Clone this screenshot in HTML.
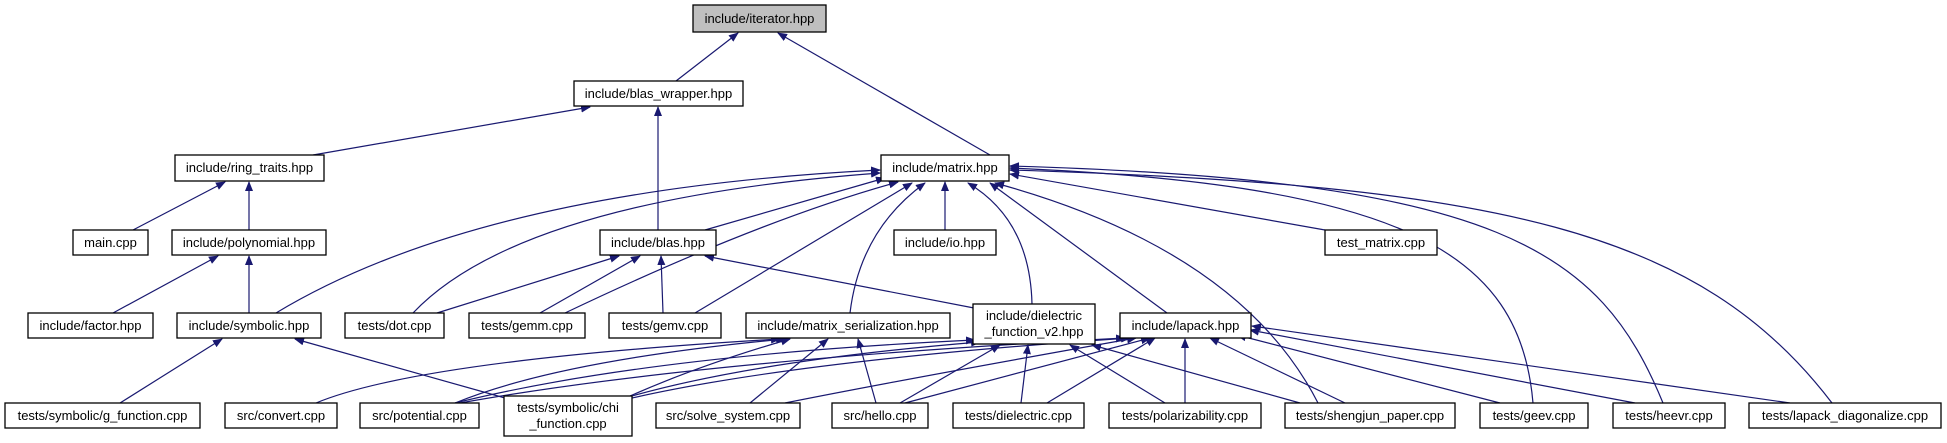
<!DOCTYPE html>
<html><head><meta charset="utf-8"><style>
html,body{margin:0;padding:0;background:#fff;}
svg{display:block;}
text{font-family:"Liberation Sans",Arial,sans-serif;font-size:13px;fill:#000;}
.b{fill:#fff;stroke:#000;stroke-width:1.3;}
.e{fill:none;stroke:#191970;stroke-width:1.2;}
</style></head><body>
<svg width="1947" height="443" viewBox="0 0 1947 443" xmlns="http://www.w3.org/2000/svg">
<defs><marker id="a" markerWidth="10" markerHeight="8" refX="9" refY="4" orient="auto" markerUnits="userSpaceOnUse"><path d="M0,0 L10,4 L0,8 z" fill="#191970"/></marker></defs>
<g class="e" marker-end="url(#a)">
<path d="M676,81 L738,33"/>
<path d="M990,155 L778,33"/>
<path d="M313,155 L590,107"/>
<path d="M658,230 L658,107"/>
<path d="M133,230 L225,182"/>
<path d="M249,230 L249,182"/>
<path d="M113,313 L218,256"/>
<path d="M249,313 L249,256"/>
<path d="M120,403 L222,339"/>
<path d="M505,398 L295,339"/>
<path d="M276,313 Q480,190 880,170"/>
<path d="M413,313 Q520,200 880,173"/>
<path d="M705,230 L885,178"/>
<path d="M565,313 Q760,220 898,182"/>
<path d="M695,313 L912,183"/>
<path d="M850,313 Q860,230 925,183"/>
<path d="M945,230 L945,182"/>
<path d="M1032,304 Q1030,220 968,183"/>
<path d="M1167,313 L990,183"/>
<path d="M1318,403 Q1240,250 995,183"/>
<path d="M1325,230 L1010,174"/>
<path d="M1533,403 C1520,250 1400,185 1010,168"/>
<path d="M1663,403 C1600,250 1500,180 1010,166"/>
<path d="M1832,403 C1700,230 1500,185 1010,170"/>
<path d="M437,313 L619,256"/>
<path d="M540,313 L640,256"/>
<path d="M663,313 L661,256"/>
<path d="M974,308 L705,256"/>
<path d="M316,403 Q420,360 780,339"/>
<path d="M455,403 Q560,360 785,339"/>
<path d="M630,396 Q700,365 790,339"/>
<path d="M750,403 L828,339"/>
<path d="M876,403 L858,339"/>
<path d="M455,403 Q650,355 975,340"/>
<path d="M632,396 Q760,360 980,342"/>
<path d="M900,403 L1000,345"/>
<path d="M1021,403 L1028,345"/>
<path d="M1165,403 L1070,345"/>
<path d="M1300,403 L1092,345"/>
<path d="M460,403 Q700,360 1125,338"/>
<path d="M632,398 Q800,360 1130,338"/>
<path d="M785,403 Q900,380 1136,338"/>
<path d="M905,403 L1150,338"/>
<path d="M1047,403 L1155,338"/>
<path d="M1185,403 L1185,339"/>
<path d="M1345,403 L1210,338"/>
<path d="M1500,403 L1237,335"/>
<path d="M1635,403 L1250,330"/>
<path d="M1790,403 L1252,326"/>
</g>
<rect x="693" y="5" width="133" height="27" fill="#bfbfbf" stroke="#000" stroke-width="1.3"/><text x="759.5" y="23" text-anchor="middle">include/iterator.hpp</text>
<g text-anchor="middle">
<rect class="b" x="574" y="81" width="169" height="25"/><text x="658.5" y="98">include/blas_wrapper.hpp</text>
<rect class="b" x="881" y="155" width="128" height="26"/><text x="945" y="172">include/matrix.hpp</text>
<rect class="b" x="175" y="155" width="149" height="26"/><text x="249.5" y="172">include/ring_traits.hpp</text>
<rect class="b" x="73" y="230" width="75" height="25"/><text x="110.5" y="247">main.cpp</text>
<rect class="b" x="172" y="230" width="154" height="25"/><text x="249" y="247">include/polynomial.hpp</text>
<rect class="b" x="600" y="230" width="116" height="25"/><text x="658" y="247">include/blas.hpp</text>
<rect class="b" x="894" y="230" width="102" height="25"/><text x="945" y="247">include/io.hpp</text>
<rect class="b" x="1325" y="230" width="112" height="25"/><text x="1381" y="247">test_matrix.cpp</text>
<rect class="b" x="28" y="313" width="125" height="25"/><text x="90.5" y="330">include/factor.hpp</text>
<rect class="b" x="177" y="313" width="144" height="25"/><text x="249" y="330">include/symbolic.hpp</text>
<rect class="b" x="345" y="313" width="99" height="25"/><text x="394.5" y="330">tests/dot.cpp</text>
<rect class="b" x="469" y="313" width="116" height="25"/><text x="527" y="330">tests/gemm.cpp</text>
<rect class="b" x="609" y="313" width="112" height="25"/><text x="665" y="330">tests/gemv.cpp</text>
<rect class="b" x="746" y="313" width="204" height="25"/><text x="848" y="330">include/matrix_serialization.hpp</text>
<rect class="b" x="973" y="304" width="122" height="40"/><text x="1034" y="320">include/dielectric</text><text x="1034" y="336">_function_v2.hpp</text>
<rect class="b" x="1120" y="313" width="131" height="25"/><text x="1185.5" y="330">include/lapack.hpp</text>
<rect class="b" x="5" y="403" width="195" height="25"/><text x="102.5" y="420">tests/symbolic/g_function.cpp</text>
<rect class="b" x="225" y="403" width="112" height="25"/><text x="281" y="420">src/convert.cpp</text>
<rect class="b" x="360" y="403" width="119" height="25"/><text x="419.5" y="420">src/potential.cpp</text>
<rect class="b" x="504" y="396" width="128" height="40"/><text x="568" y="412">tests/symbolic/chi</text><text x="568" y="428">_function.cpp</text>
<rect class="b" x="656" y="403" width="144" height="25"/><text x="728" y="420">src/solve_system.cpp</text>
<rect class="b" x="832" y="403" width="96" height="25"/><text x="880" y="420">src/hello.cpp</text>
<rect class="b" x="953" y="403" width="131" height="25"/><text x="1018.5" y="420">tests/dielectric.cpp</text>
<rect class="b" x="1109" y="403" width="152" height="25"/><text x="1185" y="420">tests/polarizability.cpp</text>
<rect class="b" x="1285" y="403" width="170" height="25"/><text x="1370" y="420">tests/shengjun_paper.cpp</text>
<rect class="b" x="1480" y="403" width="108" height="25"/><text x="1534" y="420">tests/geev.cpp</text>
<rect class="b" x="1613" y="403" width="112" height="25"/><text x="1669" y="420">tests/heevr.cpp</text>
<rect class="b" x="1749" y="403" width="192" height="25"/><text x="1845" y="420">tests/lapack_diagonalize.cpp</text>
</g>
</svg>
</body></html>
